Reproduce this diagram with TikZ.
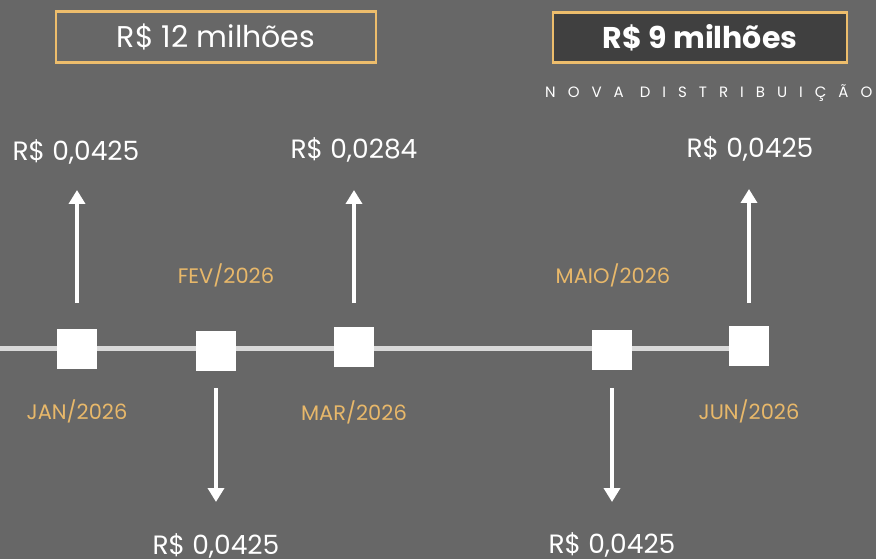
\documentclass[tikz,border=0pt]{standalone}
\usepackage{fontspec}
\setmainfont{Poppins}
\usetikzlibrary{arrows.meta}
\definecolor{bg}{HTML}{676767}
\definecolor{gold}{HTML}{EDBD6C}
\definecolor{goldtxt}{HTML}{E8B86A}
\definecolor{linegray}{HTML}{D9D9D9}
\definecolor{darkbox}{HTML}{404040}
\begin{document}
\begin{tikzpicture}[x=1pt,y=-1pt,
  sq/.style={fill=white,draw=none,minimum size=40pt,inner sep=0pt},
  val/.style={text=white,font=\fontsize{26.5}{30}\selectfont,inner sep=0pt},
  date/.style={text=goldtxt,font=\fontsize{21}{24}\selectfont,inner sep=0pt},
  arr/.style={white,line width=4pt,-{Triangle[width=16pt,length=14pt]}},
  hbox/.style={draw=gold,line width=2.2pt,inner sep=0pt}
]
\fill[bg] (0,0) rectangle (876,559);
\useasboundingbox (0,0) rectangle (876,559);
% header boxes
\node[hbox,minimum width=320pt,minimum height=51pt] (b1) at (216,37) {};
\node[text=white,font=\fontsize{30}{34}\selectfont,inner sep=0pt] (t12) at (b1) {R\$ 12 milhões};
\node[hbox,fill=darkbox,minimum width=294pt,minimum height=50pt] (b2) at (700,37.5) {};
\node[text=white,font=\fontsize{30}{34}\selectfont\bfseries,inner sep=0pt] (t9) at (b2) {R\$ 9 milhões};
\node[text=white,font=\fontsize{15}{18}\selectfont\addfontfeature{LetterSpace=80},inner sep=0pt,anchor=west] (nd) at (545,93) {NOVA DISTRIBUIÇÃO};
% timeline
\coordinate (l0) at (0,348.5);
\node[sq] (s1) at (77,349) {};
\node[sq] (s2) at (216,351) {};
\node[sq] (s3) at (354,347) {};
\node[sq] (s4) at (612,350) {};
\node[sq] (s5) at (749,346) {};
\draw[linegray,line width=5.5pt] (l0) -- (s5.center |- l0);
\foreach \s in {s1,s2,s3,s4,s5}{\node[sq] at (\s) {};}
% arrows up
\coordinate (u1a) at (77,303); \coordinate (u1b) at (77,190);
\coordinate (u3a) at (354,303); \coordinate (u3b) at (354,190);
\coordinate (u5a) at (749,303); \coordinate (u5b) at (749,189);
\draw[arr] (u1a) -- (u1b);
\draw[arr] (u3a) -- (u3b);
\draw[arr] (u5a) -- (u5b);
% arrows down
\coordinate (d2a) at (216,388); \coordinate (d2b) at (216,502);
\coordinate (d4a) at (612,388); \coordinate (d4b) at (612,502);
\draw[arr] (d2a) -- (d2b);
\draw[arr] (d4a) -- (d4b);
% values
\node[val] (v1) at (76,152) {R\$ 0,0425};
\node[val] (v3) at (354,150) {R\$ 0,0284};
\node[val] (v5) at (750,149) {R\$ 0,0425};
\node[val] (v2) at (216,546) {R\$ 0,0425};
\node[val] (v4) at (612,545) {R\$ 0,0425};
% dates
\node[date] (t1) at (77,411) {JAN/2026};
\node[date] (t2) at (226,275) {FEV/2026};
\node[date] (t3) at (354,412) {MAR/2026};
\node[date] (t4) at (613,275) {MAIO/2026};
\node[date] (t5) at (749,411) {JUN/2026};
\end{tikzpicture}
\end{document}
